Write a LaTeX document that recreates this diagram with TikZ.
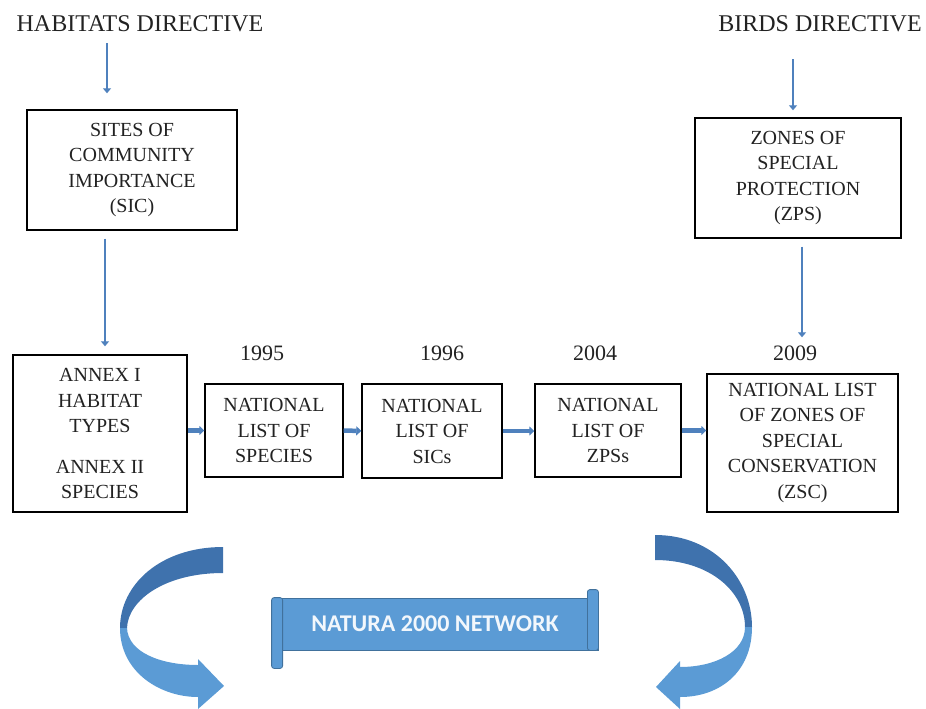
\documentclass[tikz,border=0pt]{standalone}
\usepackage{fontspec}
\setmainfont{Liberation Serif}
\newfontfamily\bannerfont{Carlito}
\definecolor{linkblue}{HTML}{4F81BD}
\definecolor{ribbonblue}{HTML}{5B9BD5}
\definecolor{ribbondark}{HTML}{3F72AD}
\definecolor{ribbonedge}{HTML}{41719C}
\definecolor{boxtext}{HTML}{222222}
\usetikzlibrary{arrows.meta,positioning,calc}
\tikzset{
    directive/.style={
        text=boxtext,
        inner sep=2pt,
        font=\fontsize{24}{28}\selectfont
    },
    yearlabel/.style={
        text=boxtext,
        inner sep=2pt,
        font=\fontsize{22}{26}\selectfont
    },
    stagebox/.style={
        draw=black,
        fill=white,
        line width=1.4pt,
        align=center,
        text=boxtext,
        inner sep=0pt,
        font=\fontsize{20}{25.5}\selectfont
    },
    downarrow/.style={
        -{Triangle[length=5pt,width=8pt]},
        draw=linkblue,
        line width=2.6pt
    },
    steparrow/.style={
        -{Triangle[length=5pt,width=9pt]},
        draw=linkblue,
        line width=4.5pt
    },
    ribbon/.style={
        fill=ribbonblue,
        draw=ribbonedge,
        line width=0.8pt
    },
    curlback/.style={
        fill=ribbondark,
        draw=none
    },
    curlfront/.style={
        fill=ribbonblue,
        draw=none
    }
}

\begin{document}
\begin{tikzpicture}[x=1pt,y=-1pt]
    \useasboundingbox (0,0) rectangle (926,709);

    \node[directive] (habitats) at (140,24) {HABITATS DIRECTIVE};
    \node[directive] (birds) at (820,24) {BIRDS DIRECTIVE};

    \node[stagebox, minimum width=210, minimum height=120] (sic) at (132,170)
        {SITES OF\\COMMUNITY\\IMPORTANCE\\(SIC)};
    \node[stagebox, minimum width=206, minimum height=120] (zps) at (798,178)
        {ZONES OF\\SPECIAL\\PROTECTION\\(ZPS)};

    \node[stagebox, minimum width=174, minimum height=157] (annex) at (100,433.5)
        {ANNEX I\\HABITAT\\TYPES\\[15pt]ANNEX II\\SPECIES};
    \node[stagebox, minimum width=138, minimum height=93] (species) at (274,430.5)
        {NATIONAL\\LIST OF\\SPECIES};
    \node[stagebox, minimum width=140, minimum height=94] (sics) at (432,431)
        {NATIONAL\\LIST OF\\SICs};
    \node[stagebox, minimum width=146, minimum height=93] (zpss) at (608,430.5)
        {NATIONAL\\LIST OF\\ZPSs};
    \node[stagebox, minimum width=191, minimum height=138] (zsc) at (802.5,443)
        {NATIONAL LIST\\OF ZONES OF\\SPECIAL\\CONSERVATION\\(ZSC)};

    \node[yearlabel] (y1995) at (262,353) {1995};
    \node[yearlabel] (y1996) at (442,353) {1996};
    \node[yearlabel] (y2004) at (595,353) {2004};
    \node[yearlabel] (y2009) at (795,353) {2009};

    % directives down to the boxes
    \draw[downarrow, shorten <=9pt, shorten >=16pt]
        ([xshift=-25pt]sic.north |- habitats.south) -- ([xshift=-25pt]sic.north);
    \draw[downarrow, shorten <=8pt, shorten >=8pt]
        ([xshift=-27pt]sic.south) -- ([xshift=-27pt]sic.south |- annex.north);
    \draw[downarrow, shorten <=25pt, shorten >=7pt]
        ([xshift=-5pt]zps.north |- birds.south) -- ([xshift=-5pt]zps.north);
    \draw[downarrow, shorten <=8pt, shorten >=36pt]
        ([xshift=4pt]zps.south) -- ([xshift=4pt]zps.south |- zsc.north);

    \draw[steparrow] (annex.east |- species.west) -- (species.west);
    \draw[steparrow] (species.east) -- (sics.west);
    \draw[steparrow] (sics.east) -- (sics.east -| zpss.west);
    \draw[steparrow] (zpss.east) -- (zpss.east -| zsc.west);

    % banner
    \node[ribbon, minimum width=326, minimum height=52, inner sep=0pt,
        text={white!92!ribbonblue}, font=\bannerfont\bfseries\fontsize{24}{28}\selectfont]
        (natura) at (435,624) {NATURA 2000 NETWORK};
    \draw[ribbon, rounded corners=2.5pt]
        (natura.north west) rectangle ([xshift=11pt,yshift=-18pt]natura.south west);
    \draw[ribbon, rounded corners=2.5pt]
        ([xshift=-11pt,yshift=8pt]natura.north east) rectangle (natura.south east);

    % curved arrows
    \fill[curlback] (223,547) .. controls (160,547) and (120,585) .. (120,628)
        -- (127,628) .. controls (128,600) and (165,573) .. (223,573) -- cycle;
    \fill[curlfront] (120,628) .. controls (120,672) and (160,697) .. (198,697)
        -- (198,709) -- (224,686) -- (198,659) -- (198,665)
        .. controls (160,665) and (128,652) .. (127,628) -- cycle;

    \fill[curlback] (655,535) .. controls (715,535) and (752,580) .. (752,627)
        -- (745,627) .. controls (745,592) and (710,560) .. (655,560) -- cycle;
    \fill[curlfront] (752,627) .. controls (752,672) and (720,697) .. (680,697)
        -- (680,709) -- (656,687) -- (680,661) -- (680,667)
        .. controls (715,667) and (745,652) .. (745,627) -- cycle;
\end{tikzpicture}
\end{document}
